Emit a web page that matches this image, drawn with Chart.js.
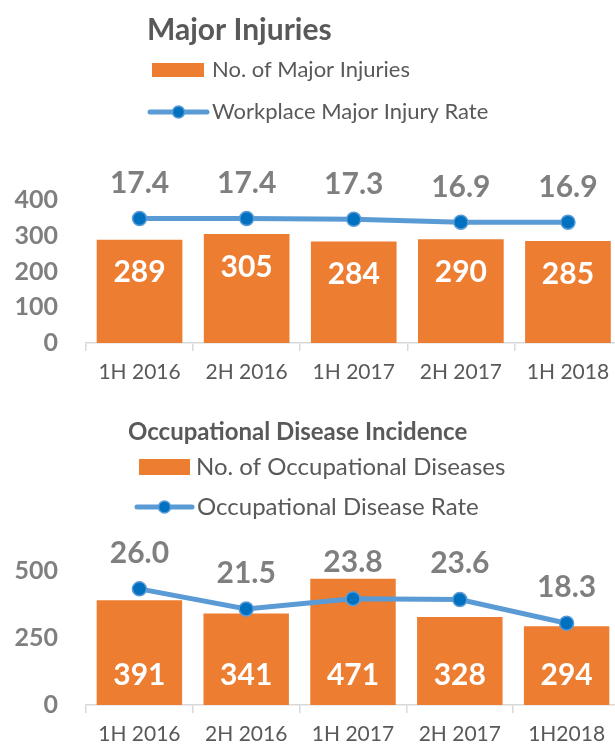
<!DOCTYPE html>
<html>
<head>
<meta charset="utf-8">
<script src="https://cdn.jsdelivr.net/npm/chart.js@4.4.1/dist/chart.umd.min.js"></script>
<style>
  html, body { margin: 0; padding: 0; background: #fff; overflow: hidden; }
  #page { width: 615px; height: 748px; overflow: hidden; }
  canvas { display: block; }
</style>
</head>
<body>
<div id="page">
  <canvas id="injuryChart" width="630" height="392"></canvas>
  <canvas id="diseaseChart" width="630" height="356"></canvas>
</div>
<script>
// =================== DATA ===================
const injuryPeriods = ["1H 2016", "2H 2016", "1H 2017", "2H 2017", "1H 2018"];
const majorInjuries = [289, 305, 284, 290, 285];
const majorInjuryRate = [17.4, 17.4, 17.3, 16.9, 16.9];
const injuryTicks = [0, 100, 200, 300, 400];

const diseasePeriods = ["1H 2016", "2H 2016", "1H 2017", "2H 2017", "1H2018"];
const occDiseases = [391, 341, 471, 328, 294];
const occDiseaseRate = [26.0, 21.5, 23.8, 23.6, 18.3];
const diseaseTicks = [0, 250, 500];

// =================== COLOURS ===================
const ORANGE = "#ed7d31";
const LINE_BLUE = "#5b9bd5";
const POINT_BLUE = "#0070c0";
const TEXT_DARK = "#595959";
const TEXT_GRAY = "#7f7f7f";
const AXIS_GRAY = "#d9d9d9";
const FONT = "Lato";

// title + legend drawn in the top band
const headerPlugin = {
  id: "header",
  afterDraw(chart, args, o) {
    const ctx = chart.ctx;
    const bars = chart.data.datasets.find(d => d.type === "bar");
    const line = chart.data.datasets.find(d => d.type === "line");
    ctx.save();
    ctx.textAlign = "left";
    ctx.textBaseline = "middle";
    ctx.fillStyle = TEXT_DARK;
    ctx.font = `bold ${o.titleSize}px ${FONT}`;
    ctx.fillText(o.title, o.titleX, o.titleY);

    ctx.font = `${o.legendSize}px ${FONT}`;
    // bar entry
    ctx.fillStyle = bars.backgroundColor;
    ctx.fillRect(o.boxX, o.row1Y - o.boxH / 2, o.boxW, o.boxH);
    ctx.fillStyle = TEXT_DARK;
    ctx.fillText(bars.label, o.text1X, o.row1Y);
    // line entry
    ctx.strokeStyle = line.borderColor;
    ctx.lineWidth = 5;
    ctx.lineCap = "round";
    ctx.beginPath();
    ctx.moveTo(o.lineX, o.row2Y);
    ctx.lineTo(o.lineX + o.lineW, o.row2Y);
    ctx.stroke();
    ctx.beginPath();
    ctx.arc(o.lineX + o.lineW / 2, o.row2Y, 6, 0, Math.PI * 2);
    ctx.fillStyle = line.pointBackgroundColor;
    ctx.fill();
    ctx.lineWidth = 1.5;
    ctx.strokeStyle = line.pointBorderColor;
    ctx.stroke();
    ctx.fillStyle = TEXT_DARK;
    ctx.fillText(line.label, o.text2X, o.row2Y);
    ctx.restore();
  }
};

// value labels on bars and points
const valueLabelPlugin = {
  id: "valueLabels",
  afterDatasetsDraw(chart, args, o) {
    const ctx = chart.ctx;
    ctx.save();
    ctx.textAlign = "center";
    ctx.textBaseline = "middle";
    chart.data.datasets.forEach((ds, i) => {
      const meta = chart.getDatasetMeta(i);
      meta.data.forEach((el, j) => {
        const v = ds.data[j];
        if (ds.type === "bar") {
          ctx.font = `bold 30px ${FONT}`;
          ctx.fillStyle = "#ffffff";
          const y = o.barAnchor === "end" ? el.y + o.barOffset : el.base - o.barOffset;
          ctx.fillText(String(v), el.x, y);
        } else {
          ctx.font = `bold 30px ${FONT}`;
          ctx.fillStyle = TEXT_GRAY;
          ctx.fillText(v.toFixed(1), el.x, el.y - o.pointOffset);
        }
      });
    });
    ctx.restore();
  }
};

function makeChart(id, s) {
  const ctx = document.getElementById(id).getContext("2d");
  return new Chart(ctx, {
    type: "bar",
    data: {
      labels: s.labels,
      datasets: [
        {
          type: "line",
          label: s.lineLabel,
          data: s.rate,
          yAxisID: "y1",
          order: 0,
          borderColor: LINE_BLUE,
          borderWidth: 5,
          pointRadius: 7,
          pointBackgroundColor: POINT_BLUE,
          pointBorderColor: LINE_BLUE,
          pointBorderWidth: 1.5,
          tension: 0,
          clip: false
        },
        {
          type: "bar",
          label: s.barLabel,
          data: s.counts,
          yAxisID: "y",
          order: 1,
          backgroundColor: ORANGE,
          barPercentage: 0.8,
          categoryPercentage: 1.0
        }
      ]
    },
    options: {
      responsive: false,
      animation: false,
      events: [],
      layout: { padding: { top: s.top, right: s.right, left: 0, bottom: 0 } },
      plugins: {
        legend: { display: false },
        tooltip: { enabled: false },
        header: s.header,
        valueLabels: s.valueLabels
      },
      scales: {
        x: {
          grid: { display: true, drawOnChartArea: false, drawTicks: true, tickLength: 8, color: AXIS_GRAY, lineWidth: 1.5 },
          border: { display: true, color: AXIS_GRAY, width: 1.5 },
          ticks: { color: TEXT_DARK, font: { family: FONT, size: 21 }, padding: 9, maxRotation: 0 },
          afterFit: sc => { sc.height = s.xHeight; }
        },
        y: {
          min: 0,
          max: s.ticks[s.ticks.length - 1],
          grid: { display: false, drawTicks: false },
          border: { display: false },
          ticks: { color: TEXT_GRAY, font: { family: FONT, size: 25, weight: "bold" }, padding: 28 },
          afterBuildTicks: sc => { sc.ticks = s.ticks.map(v => ({ value: v })); },
          afterFit: sc => { sc.width = 86; }
        },
        y1: {
          display: false,
          position: "right",
          min: 0,
          max: s.rateMax
        }
      }
    },
    plugins: [headerPlugin, valueLabelPlugin]
  });
}

makeChart("injuryChart", {
  labels: injuryPeriods,
  counts: majorInjuries,
  rate: majorInjuryRate,
  barLabel: "No. of Major Injuries",
  lineLabel: "Workplace Major Injury Rate",
  ticks: injuryTicks,
  rateMax: 20,
  top: 200,
  right: 7,
  xHeight: 49,
  header: {
    title: "Major Injuries", titleSize: 30, titleX: 147, titleY: 30,
    legendSize: 22, boxX: 152, boxW: 52, boxH: 14, row1Y: 70, text1X: 212,
    lineX: 150, lineW: 57, row2Y: 112, text2X: 212
  },
  valueLabels: { barAnchor: "end", barOffset: 33, pointOffset: 35 }
});

makeChart("diseaseChart", {
  labels: diseasePeriods,
  counts: occDiseases,
  rate: occDiseaseRate,
  barLabel: "No. of Occupational Diseases",
  lineLabel: "Occupational Disease Rate",
  ticks: diseaseTicks,
  rateMax: 30,
  top: 179,
  right: 10,
  xHeight: 41,
  header: {
    title: "Occupational Disease Incidence", titleSize: 24, titleX: 128, titleY: 40,
    legendSize: 24, boxX: 139, boxW: 51, boxH: 16, row1Y: 75, text1X: 196,
    lineX: 137, lineW: 55, row2Y: 115, text2X: 197
  },
  valueLabels: { barAnchor: "base", barOffset: 30, pointOffset: 36 }
});
</script>
</body>
</html>
